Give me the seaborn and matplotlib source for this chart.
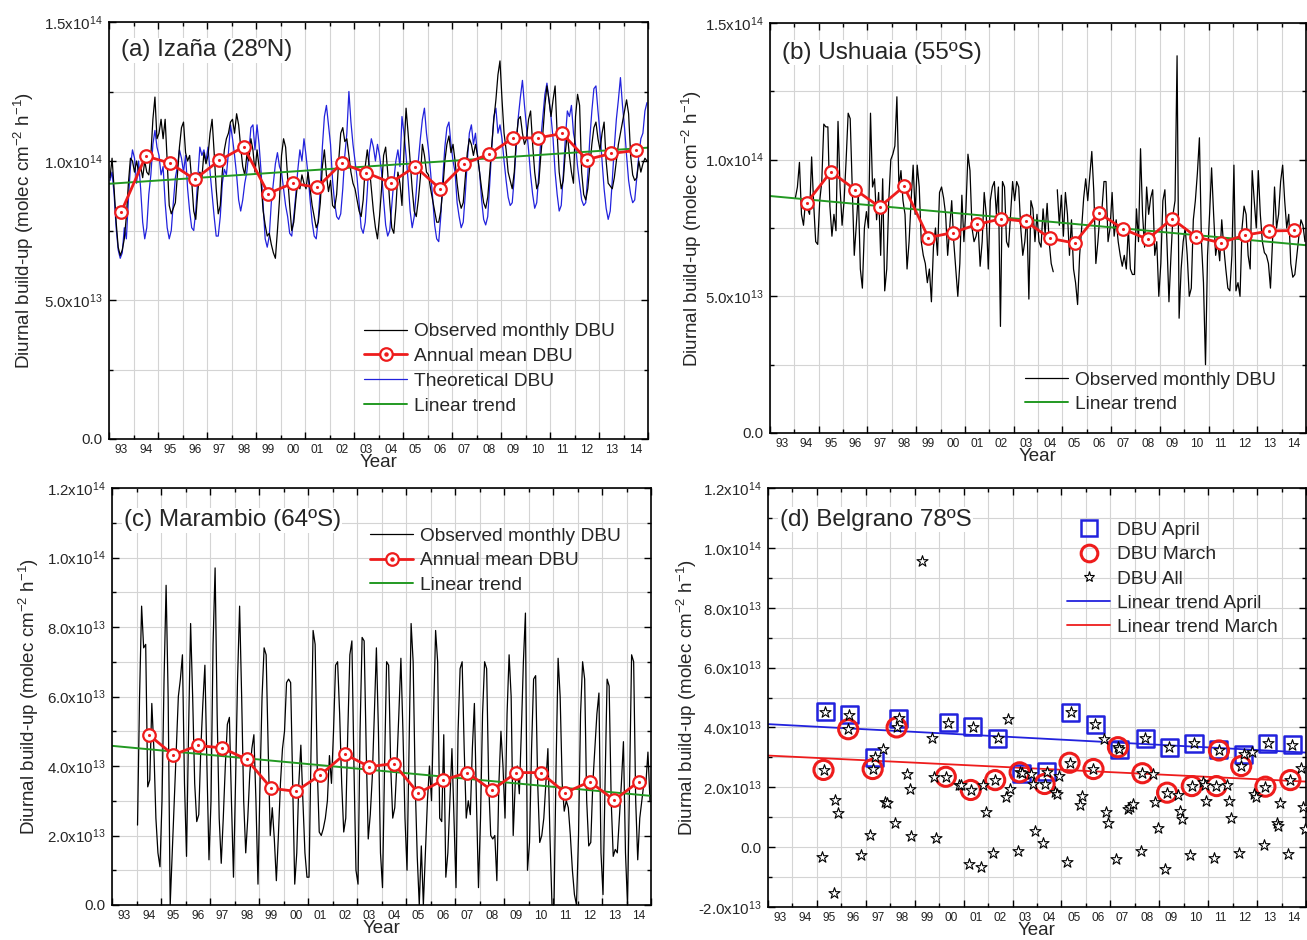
import numpy as np
import pandas as pd
import matplotlib
matplotlib.use("Agg")
import matplotlib.pyplot as plt
import matplotlib.transforms as mtransforms
from matplotlib.lines import Line2D
from matplotlib.legend_handler import HandlerTuple
from matplotlib.ticker import MultipleLocator, FuncFormatter
import seaborn as sns

# ---------------------------------------------------------------- data
YEARS = list(range(1993, 2015))
YEAR_LABELS = ["93", "94", "95", "96", "97", "98", "99", "00", "01", "02", "03",
               "04", "05", "06", "07", "08", "09", "10", "11", "12", "13", "14"]

# (a) Izana -- monthly values (x1e13), Jan..Dec, 1993..2014
izana_obs = [
    9.4, 10.1, 9.0, 7.8, 6.9, 6.6, 6.8, 7.2, 8.0, 9.2, 10.1, 10.0,
    9.6, 10.0, 9.6, 9.8, 9.4, 10.0, 9.6, 9.5, 10.2, 11.5, 12.3, 10.8,
    11.0, 11.5, 10.8, 11.5, 10.0, 8.4, 8.1, 8.3, 8.5, 9.5, 10.5, 11.2,
    11.4, 10.3, 10.0, 10.2, 9.3, 8.2, 7.9, 8.9, 9.6, 9.4, 10.3, 9.9,
    10.2, 11.0, 11.5, 10.3, 9.0, 8.1, 8.4, 9.6, 10.4, 10.8, 11.0, 11.4,
    11.5, 11.0, 11.7, 11.3, 10.5, 9.8, 9.5, 10.2, 10.0, 10.8, 10.4, 9.6,
    10.4, 9.8, 9.2, 8.2, 7.7, 7.3, 7.4, 7.0, 6.7, 6.5, 7.5, 8.6,
    10.2, 10.8, 10.5, 9.4, 8.4, 7.5, 7.8, 8.6, 9.3, 9.0, 9.5, 9.2,
    9.0, 9.6, 9.0, 8.4, 8.0, 7.6, 7.8, 8.5, 9.8, 10.4, 9.5, 8.9,
    9.3, 8.4, 8.3, 8.8, 10.0, 11.0, 11.2, 10.7, 10.8, 10.2, 9.6, 9.2,
    9.0, 8.6, 8.2, 8.0, 8.6, 9.8, 10.4, 9.8, 9.0, 8.2, 7.6, 7.2,
    8.0, 9.0, 10.2, 10.5, 9.6, 8.5, 7.6, 7.4, 8.3, 9.6, 9.2, 8.4,
    10.4, 11.9, 11.0, 10.0, 9.0, 8.2, 8.0, 8.6, 9.4, 10.6, 10.2, 9.6,
    9.5, 9.0, 8.6, 8.2, 7.8, 7.8, 8.2, 9.0, 10.0, 10.6, 10.9, 10.3,
    10.6, 10.0, 9.2, 8.6, 8.3, 8.5, 9.4, 10.3, 10.8, 10.6, 10.2, 10.6,
    10.2, 9.6, 9.0, 8.5, 8.3, 8.7, 9.6, 10.6, 11.5, 12.2, 13.1, 13.6,
    12.2, 11.0, 10.4, 9.6, 9.3, 9.0, 9.6, 10.8, 11.5, 11.6, 11.0, 10.6,
    10.8, 11.5, 11.8, 10.6, 9.6, 9.0, 9.2, 10.2, 11.0, 12.0, 12.7, 12.2,
    11.6, 12.2, 12.7, 11.0, 9.6, 9.0, 9.3, 10.3, 11.0, 10.2, 9.6, 9.2,
    11.6, 12.4, 12.0, 9.6, 8.8, 8.6, 9.0, 9.8, 10.6, 11.2, 11.4, 10.8,
    10.4, 11.0, 11.4, 10.0, 9.2, 9.1, 9.0, 9.4, 10.0, 10.6, 11.0, 11.4,
    11.8, 12.2, 11.7, 10.2, 9.5, 9.3, 9.4, 10.0, 9.6, 9.9, 10.1, 10.0,
]
izana_theo = [
    9.3, 9.6, 8.8, 7.6, 6.8, 6.5, 6.7, 7.6, 7.2, 8.6, 9.8, 10.4,
    10.1, 9.2, 10.0, 9.0, 7.8, 7.2, 7.6, 8.8, 9.5, 10.6, 11.1, 10.5,
    10.2, 9.5, 9.8, 8.5, 7.6, 7.2, 7.5, 8.5, 9.4, 9.8, 10.4, 10.1,
    9.6, 10.2, 9.0, 8.2, 7.6, 7.5, 8.2, 9.4, 10.5, 10.2, 10.4, 10.0,
    10.5, 9.6, 8.8, 8.0, 7.3, 7.3, 8.0, 9.2, 9.7, 9.5, 10.3, 11.3,
    10.8, 10.2, 9.5, 8.6, 8.2, 8.6, 9.2, 9.6, 10.3, 11.2, 11.3, 10.4,
    11.3, 10.6, 9.6, 8.4, 7.2, 6.9, 7.3, 8.5, 9.2, 9.9, 10.3, 9.8,
    9.6, 9.0, 8.4, 8.0, 7.4, 7.3, 8.0, 8.8, 9.7, 10.4, 10.0, 10.8,
    10.2, 9.5, 8.6, 7.8, 7.3, 7.2, 7.9, 9.0, 10.5, 11.6, 12.0, 11.3,
    10.6, 9.3, 8.5, 8.0, 7.9, 8.1, 9.0, 10.2, 11.0, 12.5, 11.4, 10.6,
    10.0, 9.4, 8.5, 7.6, 7.4, 7.8, 8.9, 10.3, 10.8, 10.5, 10.0, 10.6,
    10.2, 9.6, 8.6, 7.7, 7.3, 7.5, 8.4, 9.3, 10.0, 10.4, 9.8, 11.6,
    11.0, 10.2, 9.3, 8.2, 7.6, 8.0, 8.9, 10.0, 10.8, 11.5, 11.9, 11.0,
    10.4, 9.6, 8.7, 7.7, 7.2, 7.1, 8.0, 9.4, 10.5, 11.2, 11.4, 10.6,
    10.0, 9.6, 8.5, 8.0, 7.6, 7.8, 8.8, 10.0, 11.0, 11.3, 10.6, 11.0,
    10.2, 9.6, 8.6, 7.9, 7.7, 8.0, 9.2, 10.5, 11.6, 11.9, 11.0, 11.3,
    10.8, 10.0, 9.3, 8.7, 8.4, 8.5, 9.4, 10.6, 11.6, 12.3, 12.9, 12.0,
    11.2, 10.4, 9.5, 8.8, 8.3, 8.5, 9.5, 10.8, 11.6, 12.4, 12.8, 12.2,
    11.6, 10.8, 9.6, 8.8, 8.2, 8.4, 9.5, 10.8, 11.8, 11.6, 12.0, 11.0,
    10.6, 9.8, 9.2, 8.6, 8.4, 8.5, 9.5, 10.8, 11.8, 12.6, 12.7, 11.8,
    11.0, 10.0, 9.0, 8.3, 7.9, 8.2, 9.3, 10.5, 11.5, 12.2, 13.0, 12.0,
    11.2, 10.2, 9.3, 8.8, 8.5, 8.6, 9.4, 10.2, 10.8, 11.0, 11.8, 12.1,
]
izana_annual = [8.17, 10.18, 9.92, 9.34, 10.02, 10.51, 8.83, 9.20, 9.05, 9.92, 9.58,
                9.22, 9.80, 9.01, 9.90, 10.24, 10.83, 10.83, 10.99, 10.05, 10.27, 10.38]
izana_trend_x = [1993.0, 2015.0]
izana_trend_y = [9.18, 10.48]

# (b) Ushuaia -- monthly values (x1e13), Jan..Dec, 1994..2014 (nan = gap)
ushuaia_obs = [
    8.6, 9.0, 9.9, 8.0, 7.6, 8.5, 8.2, 8.0, 10.1, 8.4, 7.0, 6.9,
    8.5, 9.2, 11.3, 11.2, 11.2, 8.3, 7.2, 8.0, 7.4, 11.4, 9.0, 7.6,
    8.5, 10.0, 11.7, 11.5, 9.0, 6.5, 7.6, 8.8, 6.0, 5.3, 7.5, 8.1,
    7.5, 11.7, 9.0, 9.3, 7.8, 8.8, 6.5, 9.3, 5.2, 6.0, 8.5, 10.0,
    10.2, 10.5, 12.3, 9.0, 9.6, 8.5, 8.0, 6.0, 7.0, 8.5, 9.8, 8.0,
    9.8, 9.0, 7.0, 6.5, 6.2, 5.5, 6.0, 4.8, 6.8, 7.5, 6.5, 8.8,
    9.0, 8.6, 8.0, 6.5, 7.5, 8.5, 7.0, 6.0, 5.0, 6.2, 8.7, 7.0,
    8.2, 10.2, 9.6, 7.5, 7.0, 7.2, 7.6, 6.1, 7.0, 8.8, 8.0, 6.0,
    8.5, 9.0, 9.2, 8.0, 9.0, 3.9, 9.2, 9.0, 7.0, 6.8, 8.0, 9.2,
    8.5, 9.2, 9.0, 7.5, 6.5, 7.0, 8.0, 4.9, 8.5, 8.2, 7.0, 8.0,
    7.0, 6.8, 8.2, 7.3, 8.4, 7.0, 6.2, 5.9, np.nan, 8.9, 7.6, 8.7,
    7.2, 8.8, 8.0, 6.5, 7.8, 6.0, 5.5, 4.7, 6.5, 7.5, 8.6, 9.3,
    8.5, 9.4, 10.3, 8.8, 6.2, 7.0, 8.0, 8.2, 9.2, 9.2, 7.0, 7.5,
    8.8, 7.2, 7.8, 7.0, 6.5, 6.1, 6.5, 6.0, 7.5, 6.0, 5.8, 5.8,
    8.2, 7.0, 10.4, 8.0, 6.8, 9.0, 8.0, 8.6, 8.9, 6.5, 7.0, 5.0,
    6.2, 8.5, 8.9, 7.0, 4.8, 6.5, 8.0, 8.5, 13.8, 4.2, 6.0, 7.0,
    7.5, 6.5, 5.0, 5.3, 7.8, 8.5, 9.5, 10.8, 7.0, 5.5, 2.5, 6.5,
    8.0, 9.7, 8.0, 6.5, 7.0, 6.3, 7.8, 6.8, 6.0, 5.3, 5.2, 6.5,
    9.8, 5.2, 5.5, 5.0, 7.5, 8.3, 8.0, 6.5, 6.0, 9.6, 8.5, 7.5,
    9.6, 8.0, 7.0, 6.6, 6.5, 6.2, 5.3, 7.0, 9.0, 7.5, 8.0, 9.2,
    9.8, 8.5, 7.5, 8.0, 6.2, 5.7, 5.8, 6.5, 7.2, 7.8, 7.6, 7.0,
]
ushuaia_annual = [8.41, 9.56, 8.90, 8.27, 9.02, 7.15, 7.33, 7.63, 7.84, 7.74, 7.12,
                  6.95, 8.05, 7.46, 7.09, 7.84, 7.17, 6.96, 7.24, 7.39, 7.41]
ushuaia_trend_x = [1993.0, 2015.0]
ushuaia_trend_y = [8.67, 6.87]

# (c) Marambio -- monthly values (x1e13), Jan..Dec, 1994..2014
marambio_obs = [
    2.3, 6.0, 8.6, 7.4, 7.5, 3.4, 3.6, 5.8, 4.5, 2.5, 1.5, 1.1,
    3.0, 6.5, 9.2, 6.0, 0.0, 1.5, 3.0, 4.5, 6.0, 6.5, 7.2, 3.5,
    1.4, 5.0, 8.1, 6.0, 3.5, 2.4, 2.6, 4.5, 5.8, 6.9, 4.0, 1.3,
    3.0, 7.5, 9.7, 5.5, 2.5, 1.2, 2.5, 4.0, 5.2, 5.4, 3.0, 0.8,
    3.5, 6.5, 8.6, 6.0, 3.0, 1.5, 2.5, 3.8, 4.5, 4.9, 3.0, 0.6,
    3.5, 6.0, 7.4, 7.2, 4.5, 2.0, 2.8, 1.9, 0.7, 2.0, 3.5, 4.5,
    5.0, 6.4, 6.5, 6.4, 3.5, 0.6, 1.5, 3.5, 4.6, 3.0, 1.5, 0.8,
    0.8, 4.5, 7.9, 7.5, 4.0, 2.1, 2.0, 2.2, 2.5, 3.0, 4.3, 3.5,
    5.0, 6.9, 7.0, 5.5, 3.5, 2.1, 2.5, 5.0, 7.2, 7.6, 4.0, 1.0,
    0.6, 5.0, 7.7, 7.6, 4.5, 1.9, 2.6, 3.7, 5.5, 7.4, 5.0, 1.5,
    0.5, 4.0, 7.0, 6.9, 4.0, 2.5, 2.8, 4.0, 5.5, 7.1, 5.0, 2.5,
    1.0, 4.5, 8.1, 7.0, 3.5, 1.4, 0.0, 1.7, 0.0, 1.5, 3.0, 4.0,
    3.0, 5.5, 7.9, 7.0, 2.5, 2.4, 4.9, 0.8, 1.5, 3.0, 4.5, 2.5,
    0.5, 5.0, 6.8, 7.0, 4.5, 2.5, 3.0, 2.6, 4.5, 5.8, 3.0, 0.5,
    2.5, 5.5, 7.0, 6.8, 3.5, 2.0, 1.9, 2.0, 0.7, 3.5, 5.0, 4.0,
    2.5, 5.5, 7.2, 6.0, 2.0, 3.5, 4.0, 3.2, 5.0, 7.0, 8.4, 1.0,
    1.8, 4.5, 6.5, 6.6, 3.5, 1.8, 2.0, 2.5, 3.5, 4.5, 2.0, 0.0,
    0.0, 4.0, 7.1, 6.0, 3.5, 2.7, 3.0, 2.8, 2.0, 1.0, 0.3, 0.0,
    2.0, 5.5, 7.0, 6.5, 3.0, 1.7, 1.8, 3.5, 4.5, 5.5, 6.1, 1.5,
    0.3, 3.5, 6.5, 6.3, 3.0, 1.4, 1.6, 1.5, 2.5, 3.5, 4.7, 1.5,
    0.0, 3.5, 7.2, 7.0, 3.0, 1.3, 2.5, 3.0, 3.5, 3.5, 4.4, 3.0,
]
marambio_annual = [4.90, 4.32, 4.59, 4.52, 4.19, 3.36, 3.27, 3.74, 4.34, 3.98, 4.07,
                   3.22, 3.59, 3.81, 3.30, 3.81, 3.81, 3.23, 3.55, 3.02, 3.55]
marambio_trend_x = [1993.0, 2015.0]
marambio_trend_y = [4.58, 3.14]

# (d) Belgrano (x1e13)
april_x = [1995.34, 1996.33, 1997.36, 1998.35, 2000.37, 2001.37, 2002.39, 2003.37, 2004.39, 2005.39,
           2006.38, 2007.36, 2008.42, 2009.40, 2010.42, 2011.44, 2012.46, 2013.44, 2014.44]
april_y = [4.53, 4.42, 3.00, 4.31, 4.16, 4.02, 3.64, 2.47, 2.52, 4.50,
           4.11, 3.27, 3.64, 3.34, 3.47, 3.27, 3.11, 3.47, 3.42]
march_x = [1995.27, 1996.28, 1997.28, 1998.26, 2000.27, 2001.29, 2002.29, 2003.29, 2004.31, 2005.33,
           2006.31, 2007.31, 2008.31, 2009.32, 2010.33, 2011.34, 2011.44, 2012.35, 2013.34, 2014.36]
march_y = [2.58, 3.94, 2.61, 4.00, 2.35, 1.91, 2.24, 2.50, 2.11, 2.82,
           2.61, 3.34, 2.47, 1.82, 2.04, 2.04, 3.23, 2.71, 2.02, 2.24]
all_x = [1995.19, 1995.34, 1995.28, 1995.73, 1995.87, 1995.68, 1996.28, 1996.33, 1996.79,
         1997.19, 1997.28, 1997.36, 1997.72, 1997.80, 1997.86, 1998.20, 1998.26, 1998.35,
         1998.70, 1998.79, 1998.86, 1999.28, 1999.71, 1999.79, 1999.88, 2000.27, 2000.37,
         2000.81, 2000.88, 2001.20, 2001.29, 2001.37, 2001.73, 2001.81, 2001.90, 2002.22,
         2002.29, 2002.39, 2002.73, 2002.81, 2002.90, 2003.24, 2003.29, 2003.37, 2003.75,
         2003.83, 2003.92, 2004.26, 2004.31, 2004.39, 2004.73, 2004.80, 2004.88, 2005.24,
         2005.33, 2005.39, 2005.75, 2005.84, 2006.31, 2006.38, 2006.75, 2006.84, 2006.90,
         2007.23, 2007.31, 2007.36, 2007.74, 2007.82, 2007.91, 2008.25, 2008.31, 2008.42,
         2008.76, 2008.84, 2008.93, 2009.23, 2009.32, 2009.40, 2009.77, 2009.86, 2009.94,
         2010.25, 2010.33, 2010.42, 2010.79, 2010.88, 2010.93, 2011.25, 2011.34, 2011.44,
         2011.78, 2011.86, 2011.95, 2012.27, 2012.35, 2012.46, 2012.80, 2012.88, 2012.95,
         2013.29, 2013.34, 2013.44, 2013.81, 2013.85, 2013.93, 2014.27, 2014.36, 2014.44,
         2014.78, 2014.87, 2014.95]
all_y = [-0.32, 4.53, 2.58, 1.57, 1.13, -1.52, 3.94, 4.42, -0.25,
         0.40, 2.61, 3.00, 3.27, 1.52, 1.48, 0.79, 4.00, 4.31,
         2.44, 1.94, 0.38, 9.55, 3.64, 2.33, 0.31, 2.35, 4.16,
         2.08, 2.06, -0.57, 1.91, 4.02, -0.66, 2.08, 1.18, -0.19,
         2.24, 3.64, 1.69, 4.27, 1.94, -0.12, 2.50, 2.47, 2.44,
         2.11, 0.55, 0.15, 2.11, 2.52, 1.85, 1.77, 2.38, -0.51,
         2.82, 4.50, 1.41, 1.71, 2.61, 4.11, 3.60, 1.18, 0.81,
         -0.40, 3.34, 3.27, 1.29, 1.35, 1.43, -0.13, 2.47, 3.64,
         2.44, 1.52, 0.63, -0.74, 1.82, 3.34, 1.74, 1.22, 0.93,
         -0.27, 2.04, 3.47, 2.19, 2.08, 1.54, -0.36, 2.04, 3.23,
         2.08, 1.54, 0.98, -0.18, 2.71, 3.11, 3.19, 1.77, 1.69,
         0.07, 2.02, 3.47, 0.81, 0.70, 1.48, -0.23, 2.24, 3.42,
         2.63, 1.35, 0.59]
trend_april_x = [1993.0, 2015.0]
trend_april_y = [4.11, 3.16]
trend_march_x = [1993.0, 2015.0]
trend_march_y = [3.06, 2.19]

SCALE = 1e13

# ---------------------------------------------------------------- style
sns.set_theme(style="white")
plt.rcParams["font.family"] = ["Liberation Sans", "DejaVu Sans"]
plt.rcParams["mathtext.fontset"] = "custom"
plt.rcParams["mathtext.rm"] = "Liberation Sans"
plt.rcParams["mathtext.it"] = "Liberation Sans:italic"
plt.rcParams["mathtext.default"] = "regular"

RED = "#ee1c1c"
GREEN = "#229922"
BLUE = "#2222dd"
GRID = "#d4d4d4"


def monthly_frame(values, start_year):
    v = np.asarray(values, dtype=float) * SCALE
    x = start_year + (np.arange(len(v)) + 0.5) / 12.0
    return pd.DataFrame({"x": x, "y": v})


def annual_frame(values, start_year):
    v = np.asarray(values, dtype=float) * SCALE
    x = start_year + np.arange(len(v)) + 0.5
    return pd.DataFrame({"x": x, "y": v})


def sci_fmt(v, pos):
    if abs(v) < 1e3:
        return "0.0"
    e = int(np.floor(np.log10(abs(v)) + 1e-9))
    m = v / 10.0 ** e
    return f"{m:.1f}x10$^{{{e}}}$"


def setup_axes(ax, ylim, major, minor, ylabel_x):
    ax.set_xlim(1993, 2015)
    ax.set_ylim(*ylim)
    ax.xaxis.set_major_locator(MultipleLocator(2, offset=1))
    ax.xaxis.set_minor_locator(MultipleLocator(1))
    ax.xaxis.set_major_formatter(FuncFormatter(lambda v, p: ""))
    ax.yaxis.set_major_locator(MultipleLocator(major))
    ax.yaxis.set_minor_locator(MultipleLocator(minor))
    ax.yaxis.set_major_formatter(FuncFormatter(sci_fmt))
    ax.tick_params(which="both", direction="in", top=True, right=True,
                   bottom=True, left=True, color="black", width=1.0)
    ax.tick_params(which="major", length=5)
    ax.tick_params(which="minor", length=3)
    ax.tick_params(axis="y", which="major", labelsize=10.8, pad=5)
    ax.grid(True, which="both", color=GRID, lw=0.8)
    ax.set_axisbelow(True)
    for s in ax.spines.values():
        s.set_color("black")
        s.set_linewidth(1.2)
    trans = mtransforms.blended_transform_factory(ax.transData, ax.transAxes)
    for yr, lab in zip(YEARS, YEAR_LABELS):
        ax.text(yr + 0.5, -0.011, lab, transform=trans, ha="center", va="top",
                fontsize=8.6, color="#222222")
    ax.set_xlabel("Year", fontsize=13.5)
    ax.xaxis.set_label_coords(0.5, -0.036)
    ax.set_ylabel("Diurnal build-up (molec cm$^{-2}$ h$^{-1}$)", fontsize=13.5)
    ax.yaxis.set_label_coords(ylabel_x, 0.5)


def draw_line(ax, df, color, lw):
    sns.lineplot(data=df, x="x", y="y", ax=ax, color=color, lw=lw,
                 estimator=None, sort=False)


def draw_annual(ax, df):
    sns.lineplot(data=df, x="x", y="y", ax=ax, color=RED, lw=2.0,
                 estimator=None, sort=False, marker="o", markersize=9,
                 markerfacecolor="white", markeredgecolor=RED,
                 markeredgewidth=1.6, zorder=5)
    sns.scatterplot(data=df, x="x", y="y", ax=ax, color=RED, s=5,
                    linewidth=0, zorder=6)


def panel_title(ax, text, y):
    ax.text(0.022, y, text, transform=ax.transAxes, fontsize=17.5,
            ha="left", va="center", zorder=10,
            bbox=dict(facecolor="white", edgecolor="none", pad=1.0))


annual_handle = (Line2D([], [], color=RED, lw=2.0, marker="o", markersize=9,
                        markerfacecolor="white", markeredgecolor=RED,
                        markeredgewidth=1.6),
                 Line2D([], [], color=RED, lw=0, marker="o", markersize=2.2,
                        markerfacecolor=RED, markeredgecolor=RED))
obs_handle = Line2D([], [], color="black", lw=0.9)
theo_handle = Line2D([], [], color=BLUE, lw=0.9)
trend_handle = Line2D([], [], color=GREEN, lw=1.4)

LEG_KW = dict(frameon=False, fontsize=13.8, handlelength=2.25, handletextpad=0.36,
              labelspacing=0.38, borderpad=0.0, borderaxespad=0.0,
              handler_map={tuple: HandlerTuple(ndivide=1)})

fig = plt.figure(figsize=(13.07, 9.40), dpi=100)
axA = fig.add_axes([109 / 1307, 1 - 439 / 940, 539 / 1307, 417 / 940])
axB = fig.add_axes([770 / 1307, 1 - 433 / 940, 536 / 1307, 410 / 940])
axC = fig.add_axes([112 / 1307, 1 - 905 / 940, 539 / 1307, 417 / 940])
axD = fig.add_axes([768 / 1307, 1 - 907 / 940, 538 / 1307, 419 / 940])

# ---------------- (a)
setup_axes(axA, (0, 1.5e14), 5e13, 2.5e13, -0.136)
draw_line(axA, monthly_frame(izana_theo, 1993), BLUE, 0.9)
draw_line(axA, monthly_frame(izana_obs, 1993), "black", 0.9)
draw_line(axA, pd.DataFrame({"x": izana_trend_x, "y": np.array(izana_trend_y) * SCALE}), GREEN, 1.4)
draw_annual(axA, annual_frame(izana_annual, 1993))
panel_title(axA, "(a) Izaña (28ºN)", 0.932)
axA.legend([obs_handle, annual_handle, theo_handle, trend_handle],
           ["Observed monthly DBU", "Annual mean DBU", "Theoretical DBU", "Linear trend"],
           loc="upper left", bbox_to_anchor=(0.473, 0.278), **LEG_KW)

# ---------------- (b)
setup_axes(axB, (0, 1.5e14), 5e13, 2.5e13, -0.124)
ush = monthly_frame(ushuaia_obs, 1994)
gap = ush["y"].isna().to_numpy().nonzero()[0][0]
draw_line(axB, ush.iloc[:gap], "black", 0.9)
draw_line(axB, ush.iloc[gap + 1:], "black", 0.9)
draw_line(axB, pd.DataFrame({"x": ushuaia_trend_x, "y": np.array(ushuaia_trend_y) * SCALE}), GREEN, 1.4)
draw_annual(axB, annual_frame(ushuaia_annual, 1994))
panel_title(axB, "(b) Ushuaia (55ºS)", 0.927)
axB.legend([obs_handle, trend_handle], ["Observed monthly DBU", "Linear trend"],
           loc="upper left", bbox_to_anchor=(0.476, 0.151), **LEG_KW)

# ---------------- (c)
setup_axes(axC, (0, 1.2e14), 2e13, 1e13, -0.132)
draw_line(axC, monthly_frame(marambio_obs, 1994), "black", 0.9)
draw_line(axC, pd.DataFrame({"x": marambio_trend_x, "y": np.array(marambio_trend_y) * SCALE}), GREEN, 1.4)
draw_annual(axC, annual_frame(marambio_annual, 1994))
panel_title(axC, "(c) Marambio (64ºS)", 0.923)
axC.legend([obs_handle, annual_handle, trend_handle],
           ["Observed monthly DBU", "Annual mean DBU", "Linear trend"],
           loc="upper left", bbox_to_anchor=(0.479, 0.906), **LEG_KW)

# ---------------- (d)
setup_axes(axD, (-2e13, 1.2e14), 2e13, 1e13, -0.129)
draw_line(axD, pd.DataFrame({"x": trend_april_x, "y": np.array(trend_april_y) * SCALE}), BLUE, 1.3)
draw_line(axD, pd.DataFrame({"x": trend_march_x, "y": np.array(trend_march_y) * SCALE}), RED, 1.3)
sns.scatterplot(x=april_x, y=np.array(april_y) * SCALE, ax=axD, marker="s", s=150,
                facecolor="none", edgecolor=BLUE, linewidth=1.8, zorder=4)
sns.scatterplot(x=march_x, y=np.array(march_y) * SCALE, ax=axD, marker="o", s=190,
                facecolor="none", edgecolor=RED, linewidth=2.2, zorder=5)
sns.scatterplot(x=all_x, y=np.array(all_y) * SCALE, ax=axD, marker="*", s=70,
                facecolor="white", edgecolor="black", linewidth=0.8, zorder=6)
panel_title(axD, "(d) Belgrano 78ºS", 0.924)
h_apr = Line2D([], [], lw=0, marker="s", markersize=11, markerfacecolor="none",
               markeredgecolor=BLUE, markeredgewidth=1.8)
h_mar = Line2D([], [], lw=0, marker="o", markersize=12, markerfacecolor="none",
               markeredgecolor=RED, markeredgewidth=2.2)
h_all = Line2D([], [], lw=0, marker="*", markersize=8, markerfacecolor="white",
               markeredgecolor="black", markeredgewidth=0.8)
h_ta = Line2D([], [], color=BLUE, lw=1.3)
h_tm = Line2D([], [], color=RED, lw=1.3)
axD.legend([h_apr, h_mar, h_all, h_ta, h_tm],
           ["DBU April", "DBU March", "DBU All", "Linear trend April", "Linear trend March"],
           loc="upper left", bbox_to_anchor=(0.556, 0.92),
           **{**LEG_KW, "labelspacing": 0.36})

for ax in (axA, axB, axC, axD):
    ax.set_xlim(1993, 2015)

fig.savefig("out.png", dpi=100)
